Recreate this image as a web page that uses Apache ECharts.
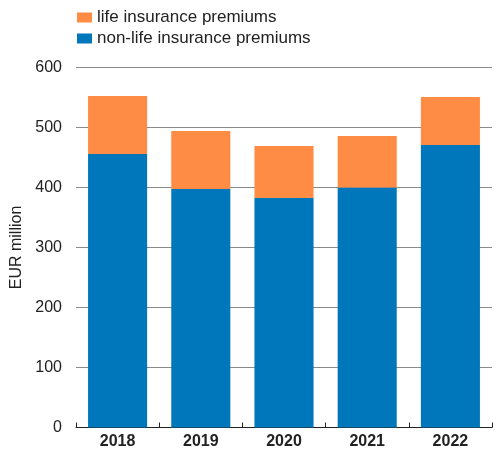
<!DOCTYPE html>
<html>
<head>
<meta charset="utf-8">
<script src="https://cdn.jsdelivr.net/npm/echarts@6/dist/echarts.min.js"></script>
<style>
  html, body { margin: 0; padding: 0; background: #fff; }
  #chart { width: 497px; height: 454px; }
</style>
</head>
<body>
<div id="chart"></div>
<script>
// Insurance premiums by year, EUR million
const years = ['2018', '2019', '2020', '2021', '2022'];
const nonLifePremiums = [456, 397.5, 382.5, 400, 471];
const lifePremiums = [96.5, 96.5, 86.5, 86, 80];
const yTicks = { min: 0, max: 600, interval: 100 };

const FONT = '"Liberation Sans", Arial, Helvetica, sans-serif';

const chart = echarts.init(document.getElementById('chart'));
chart.setOption({
  animation: false,
  textStyle: { fontFamily: FONT },
  legend: {
    orient: 'vertical',
    left: 72,
    top: 4,
    itemWidth: 15,
    itemHeight: 10,
    itemGap: 4,
    icon: 'rect',
    textStyle: { fontFamily: FONT, fontSize: 17, color: '#222' },
    data: ['life insurance premiums', 'non-life insurance premiums']
  },
  grid: { left: 76, right: 5, top: 67.5, bottom: 26.5 },
  xAxis: {
    type: 'category',
    data: years,
    axisLine: { show: true, lineStyle: { color: '#222', width: 1 } },
    axisTick: { show: true, inside: true, length: 5, alignWithLabel: false, lineStyle: { color: '#222' } },
    axisLabel: { fontFamily: FONT, fontSize: 16, fontWeight: 'bold', color: '#222', margin: 6 }
  },
  yAxis: {
    type: 'value',
    min: yTicks.min,
    max: yTicks.max,
    interval: yTicks.interval,
    name: 'EUR million',
    nameLocation: 'middle',
    nameGap: 50,
    nameTextStyle: { fontFamily: FONT, fontSize: 16, color: '#222' },
    axisLine: { show: false },
    axisTick: { show: false },
    axisLabel: { fontFamily: FONT, fontSize: 16, color: '#222', margin: 14 },
    splitLine: { lineStyle: { color: '#8a8a8a', width: 1 } }
  },
  series: [
    {
      name: 'non-life insurance premiums',
      type: 'bar',
      stack: 'total',
      data: nonLifePremiums,
      barCategoryGap: '29%',
      itemStyle: { color: '#0077BB' }
    },
    {
      name: 'life insurance premiums',
      type: 'bar',
      stack: 'total',
      data: lifePremiums,
      barCategoryGap: '29%',
      itemStyle: { color: '#FF8C45' }
    }
  ]
});
</script>
</body>
</html>
